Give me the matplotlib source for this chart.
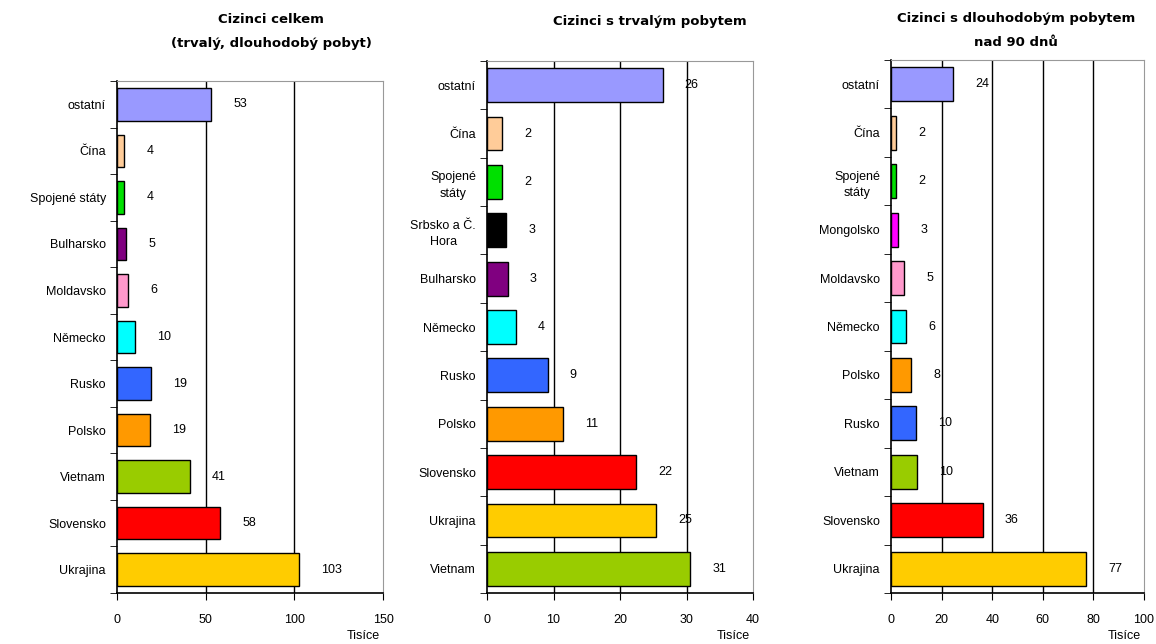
import numpy as np
import matplotlib.pyplot as plt
from matplotlib.ticker import FixedLocator

# === Data (thousands of people), top to bottom ===
celkem_cats = ["ostatní", "Čína", "Spojené státy", "Bulharsko", "Moldavsko", "Německo",
               "Rusko", "Polsko", "Vietnam", "Slovensko", "Ukrajina"]
celkem_vals = [52.9, 4.2, 4.1, 5.0, 6.4, 10.1, 19.2, 18.8, 41.0, 58.3, 102.6]
celkem_cols = ["#9999FF", "#FFCC99", "#00E000", "#800080", "#FF99CC", "#00FFFF",
               "#3366FF", "#FF9900", "#99CC00", "#FF0000", "#FFCC00"]

trvaly_cats = ["ostatní", "Čína", "Spojené\nstáty", "Srbsko a Č.\nHora", "Bulharsko", "Německo",
               "Rusko", "Polsko", "Slovensko", "Ukrajina", "Vietnam"]
trvaly_vals = [26.4, 2.3, 2.3, 2.9, 3.1, 4.3, 9.1, 11.4, 22.4, 25.4, 30.6]
trvaly_cols = ["#9999FF", "#FFCC99", "#00E000", "#000000", "#800080", "#00FFFF",
               "#3366FF", "#FF9900", "#FF0000", "#FFCC00", "#99CC00"]

dlouh_cats = ["ostatní", "Čína", "Spojené\nstáty", "Mongolsko", "Moldavsko", "Německo",
              "Polsko", "Rusko", "Vietnam", "Slovensko", "Ukrajina"]
dlouh_vals = [24.4, 1.9, 1.9, 2.9, 5.2, 5.9, 7.9, 9.9, 10.4, 36.2, 77.2]
dlouh_cols = ["#9999FF", "#FFCC99", "#00E000", "#FF00FF", "#FF99CC", "#00FFFF",
              "#FF9900", "#3366FF", "#99CC00", "#FF0000", "#FFCC00"]

titles = ["Cizinci celkem\n(trvalý, dlouhodobý pobyt)",
          "Cizinci s trvalým pobytem",
          "Cizinci s dlouhodobým pobytem\nnad 90 dnů"]
xmax = [150, 40, 100]
xstep = [50, 10, 20]

plt.rcParams['font.family'] = ['Liberation Sans', 'DejaVu Sans']

fig = plt.figure(figsize=(11.56, 6.44), dpi=100)
W, H = 1156, 644

# axes boxes in pixels: left, top, right, bottom
boxes = [(117, 81, 383, 593), (487, 61, 753, 593), (891, 60, 1144, 593)]
title_x = [271, 650, 1016]
title_y = [13, 15, 12]

panels = [(celkem_cats, celkem_vals, celkem_cols),
          (trvaly_cats, trvaly_vals, trvaly_cols),
          (dlouh_cats, dlouh_vals, dlouh_cols)]

for i, (cats, vals, cols) in enumerate(panels):
    l, t, r, b = boxes[i]
    ax = fig.add_axes([l / W, 1 - b / H, (r - l) / W, (b - t) / H])
    y = np.arange(len(cats))
    ax.barh(y, vals, height=0.7, color=cols, edgecolor="black", linewidth=1, zorder=3)
    ax.set_xlim(0, xmax[i])
    ax.set_ylim(len(cats) - 0.5, -0.5)

    ticks = np.arange(0, xmax[i] + 1, xstep[i])
    ax.set_xticks(ticks)
    for xv in ticks[1:-1]:
        ax.axvline(xv, color="black", lw=1, zorder=1)

    ax.set_yticks(y)
    ax.set_yticklabels(cats, multialignment="center", linespacing=1.5)
    ax.yaxis.set_minor_locator(FixedLocator(np.arange(-0.5, len(cats), 1)))
    ax.tick_params(axis="y", which="major", length=0, pad=8, labelsize=9)
    ax.tick_params(axis="y", which="minor", length=5, direction="out", color="black")
    ax.tick_params(axis="x", length=5, direction="out", pad=10, labelsize=9)

    for side in ["top", "right"]:
        ax.spines[side].set_color("#999999")
    for side in ["left", "bottom"]:
        ax.spines[side].set_color("black")
        ax.spines[side].set_linewidth(1.2)

    for yv, v in zip(y, vals):
        ax.annotate(f"{round(v)}", (v, yv), xytext=(16, 0), textcoords="offset points",
                    va="center", ha="left", fontsize=9)

    fig.text(title_x[i] / W, 1 - title_y[i] / H, titles[i], ha="center", va="top",
             fontsize=9.5, fontweight="bold", family="DejaVu Sans", linespacing=2.1)
    fig.text((r - 20) / W, 1 - 636 / H, "Tisíce", ha="center", va="center", fontsize=9)

fig.savefig("out.png", dpi=100)
